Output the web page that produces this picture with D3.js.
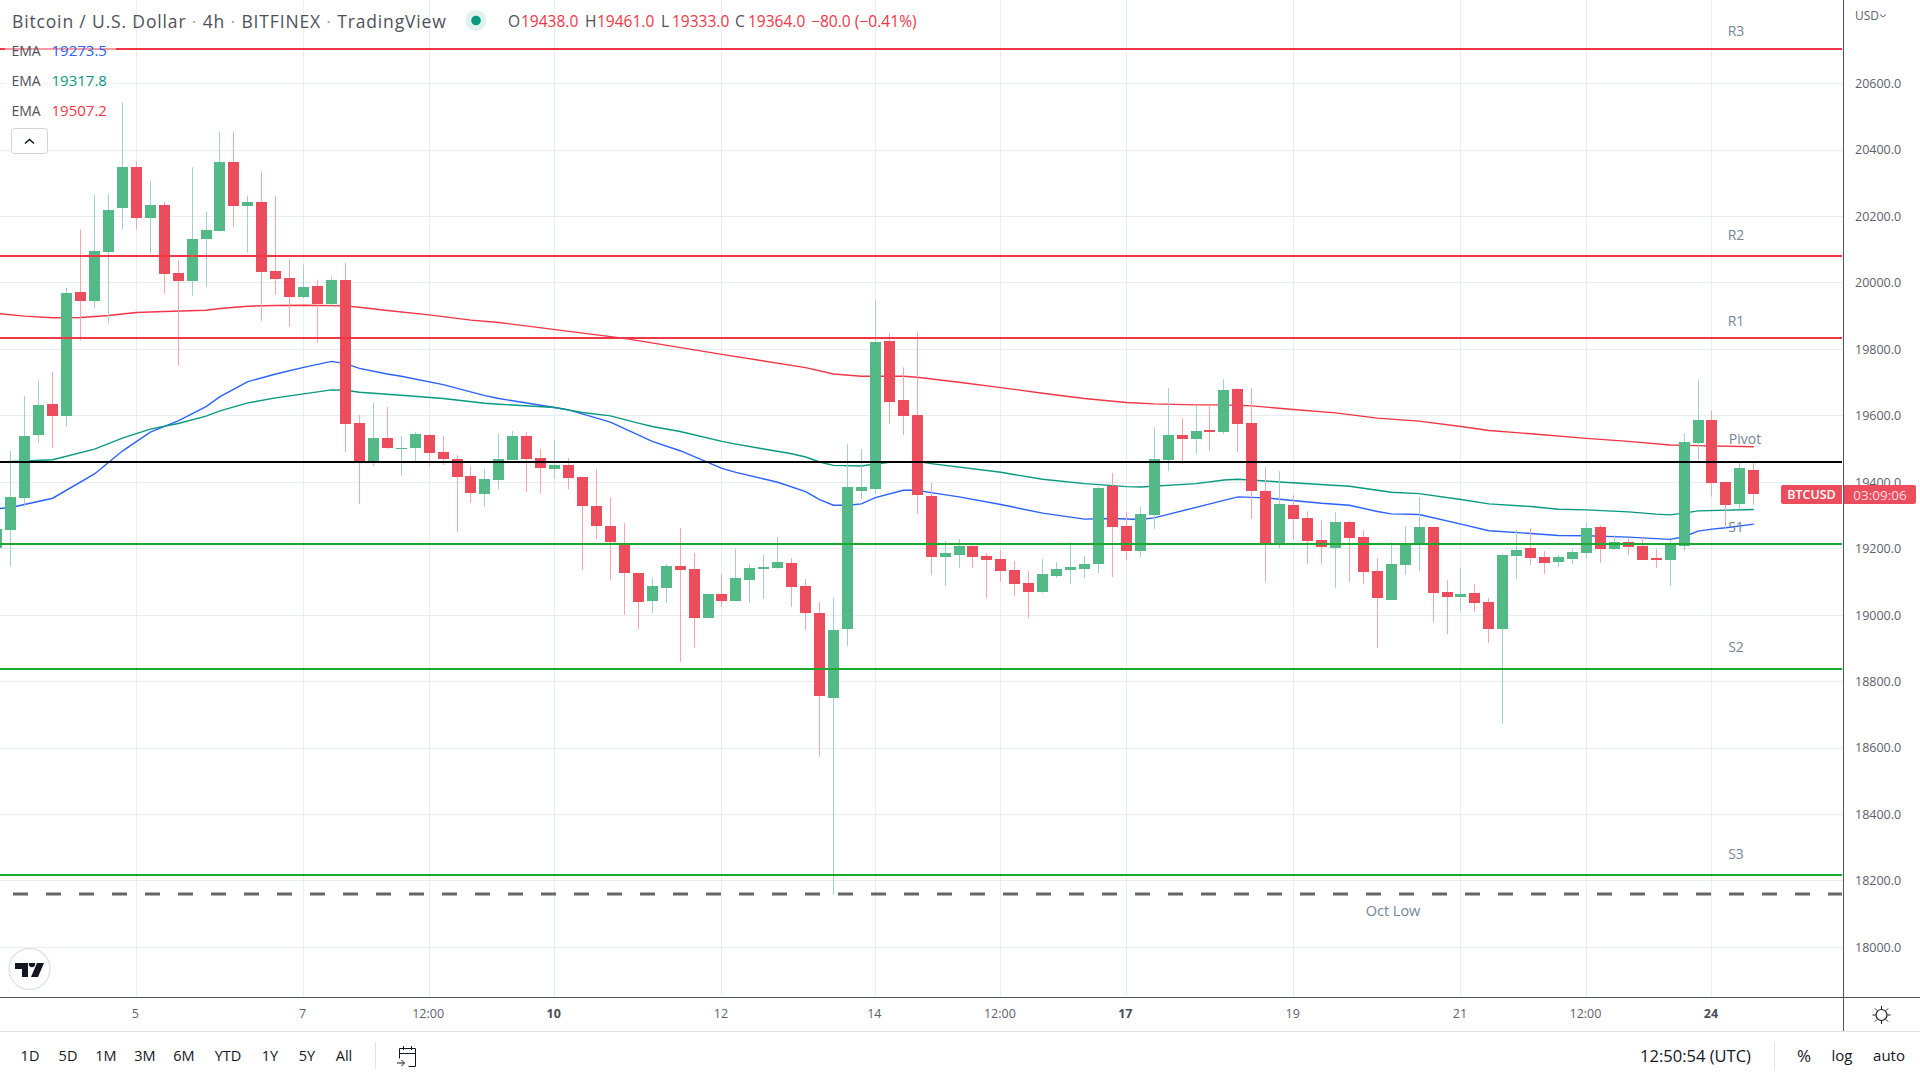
<!DOCTYPE html>
<html><head><meta charset="utf-8">
<script src="https://cdn.jsdelivr.net/npm/d3@7"></script>
<style>html,body{margin:0;padding:0;background:#fff;overflow:hidden}svg{display:block}text{font-family:"Open Sans",sans-serif}</style>
</head><body><svg id="c" width="1920" height="1080"></svg>
<script>
const opens=[19202,19256,19353,19543,19636,19598,19974,19947,20094,20227,20348,20194,20236,20031,20007,20131,20155,20363,20233,20245,20037,20016,19959,19992,19938,20010,19579,19462,19534,19501,19504,19543,19491,19470,19419,19365,19407,19467,19539,19473,19440,19452,19416,19328,19268,19214,19127,19043,19082,19148,19139,18992,19064,19043,19106,19139,19142,19157,19088,19007,18751,18959,19374,19380,19825,19647,19602,19359,19175,19181,19208,19178,19169,19136,19097,19070,19118,19136,19139,19154,19389,19268,19193,19302,19467,19542,19530,19557,19551,19680,19578,19374,19216,19332,19292,19226,19202,19280,19235,19133,19046,19151,19214,19265,19070,19055,19067,19040,18958,19178,19202,19175,19160,19169,19187,19265,19199,19220,19208,19172,19166,19208,19517,19586,19402,19336,19438];
const closes=[19258,19355,19540,19633,19598,19971,19947,20097,20221,20348,20194,20236,20028,20007,20131,20158,20363,20233,20245,20034,20013,19959,19989,19938,20010,19576,19462,19534,19504,19504,19546,19489,19470,19416,19368,19410,19470,19539,19470,19443,19452,19413,19328,19268,19220,19127,19040,19088,19148,19136,18992,19064,19043,19112,19142,19145,19160,19085,19007,18757,18956,19385,19386,19822,19641,19599,19362,19175,19187,19208,19175,19166,19133,19094,19070,19124,19139,19145,19154,19383,19265,19193,19305,19470,19542,19530,19554,19551,19677,19575,19374,19216,19334,19290,19223,19205,19280,19232,19130,19052,19154,19214,19265,19067,19055,19064,19037,18958,19181,19196,19172,19157,19175,19190,19262,19199,19220,19205,19166,19166,19217,19520,19586,19399,19333,19444,19364];
const highs=[19290,19494,19660,19708,19733,19986,20161,20266,20269,20544,20366,20308,20245,20067,20348,20215,20456,20456,20263,20336,20263,20073,20055,20010,20019,20061,19603,19639,19627,19540,19552,19546,19540,19482,19449,19440,19545,19554,19551,19500,19527,19473,19416,19440,19355,19277,19127,19112,19154,19262,19187,19064,19124,19199,19154,19181,19235,19172,19109,19040,19052,19515,19500,19948,19849,19746,19852,19398,19223,19229,19211,19187,19196,19163,19133,19169,19160,19220,19178,19386,19428,19311,19326,19566,19683,19593,19632,19632,19710,19683,19683,19445,19433,19361,19313,19286,19310,19283,19256,19172,19220,19268,19355,19265,19106,19142,19094,19052,19184,19256,19262,19193,19181,19199,19280,19271,19241,19229,19235,19199,19226,19547,19707,19616,19402,19460,19461];
const lows=[19180,19147,19327,19519,19504,19568,19827,19924,19878,20161,20161,20088,19968,19751,19962,19989,20155,20170,20091,19886,19965,19868,19953,19820,19932,19491,19335,19449,19500,19419,19462,19446,19452,19250,19338,19326,19379,19467,19370,19367,19410,19379,19136,19229,19106,19001,18959,19007,19037,18859,18902,18992,19025,19043,19037,19049,19139,19025,18956,18574,18160,18907,19350,19365,19575,19542,19305,19121,19088,19142,19142,19052,19100,19058,18992,19067,19112,19094,19112,19127,19115,19166,19175,19259,19434,19455,19485,19494,19545,19491,19290,19100,19202,19229,19154,19154,19082,19100,19094,18901,19046,19121,19133,18979,18943,19013,19010,18916,18673,19109,19151,19124,19145,19154,19172,19157,19196,19181,19166,19142,19088,19192,19466,19357,19261,19318,19333];

const blueIdx=[0,1,4,7,9,11,13,15,16,18,20,22,24,25,26,28,29,32,35,36,40,41,44,47,49,52,53,56,58,59,60,61,62,63,65,66,67,69,72,75,78,80,82,83,87,89,91,92,95,97,99,100,102,105,107,110,112,114,117,120,121,122,123,124,126];
const blueVal=[19320,19324,19352,19425,19494,19551,19585,19628,19658,19703,19726,19746,19764,19757,19743,19726,19719,19694,19661,19652,19625,19618,19581,19523,19495,19442,19430,19400,19372,19348,19331,19331,19335,19354,19376,19376,19369,19356,19333,19307,19289,19291,19288,19293,19335,19356,19353,19349,19337,19331,19312,19305,19303,19274,19254,19246,19240,19239,19235,19228,19236,19253,19259,19263,19274];
const greenIdx=[0,2,4,7,9,11,13,15,16,18,20,22,24,25,26,29,32,35,36,40,42,44,46,47,49,52,53,55,57,58,59,60,62,63,64,66,67,72,75,78,81,82,86,88,89,91,92,97,99,100,102,105,107,110,112,114,117,119,120,121,122,126];
const greenVal=[19461,19464,19468,19500,19533,19560,19577,19599,19615,19639,19654,19666,19678,19677,19671,19662,19652,19638,19635,19625,19610,19600,19578,19568,19553,19523,19515,19500,19486,19476,19461,19451,19449,19455,19460,19462,19456,19430,19409,19396,19387,19386,19396,19407,19409,19404,19401,19388,19376,19370,19366,19348,19335,19327,19319,19317,19311,19304,19302,19307,19314,19318];
const redIdx=[0,2,4,6,8,10,12,15,16,18,20,22,25,26,28,31,34,36,45,52,58,60,62,65,66,69,72,75,78,81,83,86,88,90,93,96,99,102,105,107,110,114,117,120,121,126];
const redVal=[19908,19900,19895,19896,19902,19911,19914,19918,19923,19930,19932,19933,19931,19927,19917,19904,19888,19881,19833,19785,19745,19726,19719,19719,19716,19701,19685,19668,19652,19640,19636,19633,19633,19630,19619,19609,19593,19584,19568,19556,19546,19532,19523,19512,19511,19507];

const levelNames=["R3","R2","R1","Pivot","S1","S2","S3"];
const levelVals=[20703,20080,19833,19460,19214,18838,18217];
const levelCols=["#f23645","#f23645","#f23645","#000000","#1ba82c","#1ba82c","#1ba82c"];
const octLow=18160;
const priceTicks=[20600,20400,20200,20000,19800,19600,19400,19200,19000,18800,18600,18400,18200,18000];
const timeIdx=[10,22,31,40,52,63,72,81,93,105,114,123];
const timeLabels=["5","7","12:00","10","12","14","12:00","17","19","21","12:00","24"];
const timeBold=["10","17","24"];
const rangeButtons=["1D","5D","1M","3M","6M","YTD","1Y","5Y","All"];
const rangeCentres=[30,68,106,145,184,228,270,307,344];

const PLOT_R=1843, PLOT_B=997;
const GRID="#e6edf3", UP="#53b987", DOWN="#ec4d5c", UPW="#a3cfd0", DOWNW="#f7a5ae", TXT="#5d606b";
const svg=d3.select("#c");
const x=d3.scaleLinear().domain([0,126]).range([-3.6,1753.3]);
const y=d3.scaleLinear().domain([20600,18000]).range([83.6,947.4]);
const cx=i=>Math.round(x(i));
svg.append("defs").append("clipPath").attr("id","plot").append("rect").attr("width",PLOT_R).attr("height",PLOT_B);
const plot=svg.append("g").attr("clip-path","url(#plot)");

// grid
plot.append("g").selectAll("line").data(priceTicks).join("line")
 .attr("x1",0).attr("x2",PLOT_R).attr("y1",d=>Math.floor(y(d))+.5).attr("y2",d=>Math.floor(y(d))+.5).attr("stroke",GRID);
plot.append("g").selectAll("line").data(timeIdx).join("line")
 .attr("x1",d=>cx(d)+.5).attr("x2",d=>cx(d)+.5).attr("y1",0).attr("y2",PLOT_B).attr("stroke",GRID);

// EMA lines
const emaLine=d3.line().x(d=>x(d[0])+.5).y(d=>y(d[1]));
[[blueIdx,blueVal,"#2962ff"],[greenIdx,greenVal,"#089981"],[redIdx,redVal,"#f23645"]].forEach(([a,b,c])=>{
 plot.append("path").attr("d",emaLine(a.map((v,k)=>[v,b[k]]))).attr("fill","none").attr("stroke",c).attr("stroke-width",1.4);
});

// candles
const idx=d3.range(opens.length);
plot.append("g").selectAll("rect").data(idx).join("rect")
 .attr("x",i=>cx(i)).attr("width",1).attr("y",i=>y(highs[i])).attr("height",i=>y(lows[i])-y(highs[i]))
 .attr("fill",i=>closes[i]>=opens[i]?UPW:DOWNW);
plot.append("g").selectAll("rect").data(idx).join("rect")
 .attr("x",i=>cx(i)-5).attr("width",11)
 .attr("y",i=>Math.round(y(Math.max(opens[i],closes[i]))))
 .attr("height",i=>Math.max(1,Math.round(y(Math.min(opens[i],closes[i])))-Math.round(y(Math.max(opens[i],closes[i])))))
 .attr("fill",i=>closes[i]>=opens[i]?UP:DOWN);

// level lines
plot.append("g").selectAll("line").data(levelVals).join("line")
 .attr("x1",0).attr("x2",PLOT_R-1).attr("y1",d=>Math.round(y(d))).attr("y2",d=>Math.round(y(d)))
 .attr("stroke",(d,i)=>levelCols[i]).attr("stroke-width",2);
plot.append("line").attr("x1",-20).attr("x2",PLOT_R-1).attr("y1",Math.round(y(octLow))).attr("y2",Math.round(y(octLow)))
 .attr("stroke","#666").attr("stroke-width",3).attr("stroke-dasharray","15 18");

// level labels
const labelPos={R3:[1736,30],R2:[1736,234],R1:[1736,320],Pivot:[1745,438],S1:[1736,526],S2:[1736,646],S3:[1736,853]};
plot.append("g").selectAll("text").data(levelNames).join("text")
 .attr("x",d=>labelPos[d][0]).attr("y",d=>labelPos[d][1]).attr("text-anchor","middle").attr("dominant-baseline","central")
 .attr("font-size",14).attr("fill","#758696").text(d=>d);
plot.append("text").attr("x",1393).attr("y",910).attr("text-anchor","middle").attr("dominant-baseline","central")
 .attr("font-size",14.5).attr("fill","#758696").text("Oct Low");

// price axis
const yAxis=d3.axisRight(y).tickValues(priceTicks).tickSize(0).tickPadding(0).tickFormat(d3.format(".1f"));
const ga=svg.append("g").attr("transform",`translate(${PLOT_R+12},-0.5)`).call(yAxis);
ga.select(".domain").remove();
ga.selectAll("text").attr("font-size",12.5).attr("fill",TXT).style("font-family",'"Open Sans",sans-serif').attr("x",0).attr("dy","0.35em");

// time axis
const xAxis=d3.axisBottom(x).tickValues(timeIdx).tickSize(0).tickPadding(0).tickFormat((d,i)=>timeLabels[i]);
const gt=svg.append("g").attr("transform",`translate(-1,1014)`).call(xAxis);
gt.select(".domain").remove();
gt.selectAll("text").attr("font-size",12.5).attr("fill",(d,i)=>timeBold.includes(timeLabels[i])?"#4a4d57":TXT)
 .attr("font-weight",(d,i)=>timeBold.includes(timeLabels[i])?700:400).style("font-family",'"Open Sans",sans-serif').attr("y",0).attr("dy","0.35em");

// frame
svg.append("line").attr("x1",PLOT_R+.5).attr("x2",PLOT_R+.5).attr("y1",0).attr("y2",1031).attr("stroke","#50535e");
svg.append("line").attr("x1",0).attr("x2",1920).attr("y1",PLOT_B+.5).attr("y2",PLOT_B+.5).attr("stroke","#50535e");
svg.append("line").attr("x1",0).attr("x2",1920).attr("y1",1031.5).attr("y2",1031.5).attr("stroke","#e0e3eb");

// header
const T=(t,xx,yy,fs,fill,anchor)=>svg.append("text").attr("x",xx).attr("y",yy).attr("font-size",fs).attr("fill",fill)
 .attr("dominant-baseline","central").attr("text-anchor",anchor||"start").text(t);
const titleParts=["Bitcoin / U.S. Dollar"," · ","4h"," · ","BITFINEX"," · ","TradingView"];
const title=svg.append("text").attr("x",12).attr("y",20.5).attr("font-size",17.5).attr("letter-spacing",.85).attr("dominant-baseline","central").attr("xml:space","preserve");
titleParts.forEach(p=>title.append("tspan").attr("fill",p===" · "?"#a3a6af":"#4f5159").text(p));
svg.append("circle").attr("cx",476).attr("cy",20.5).attr("r",10.5).attr("fill","#dff2ee");
svg.append("circle").attr("cx",476).attr("cy",20.5).attr("r",4.8).attr("fill","#089981");
const headLabels=["O","H","L","C"], headVals=["19438.0","19461.0","19333.0","19364.0"];
const headX=[508,585,661,735], headVX=[521,597,672,748];
headLabels.forEach((l,i)=>{T(l,headX[i],20.5,15.5,"#4f5159");T(headVals[i],headVX[i],20.5,15.5,"#f23645");});
T("−80.0 (−0.41%)",811,20.5,15.6,"#f23645");

// EMA legend
const emaLegend=["19273.5","19317.8","19507.2"], emaCols=["#2962ff","#089981","#f23645"], emaY=[50,80,110];
emaLegend.forEach((v,i)=>{
 svg.append("rect").attr("x",5).attr("y",emaY[i]-11).attr("width",111).attr("height",24).attr("fill","#fff").attr("opacity",.5);
 T("EMA",11.5,emaY[i],14,"#4f5159");
 T(v,51.5,emaY[i],15,emaCols[i]);
});
svg.append("rect").attr("x",11.5).attr("y",128.5).attr("width",36).attr("height",25).attr("rx",3).attr("fill","#fff").attr("stroke","#d1d4dc");
svg.append("path").attr("d","M25 143.5l4.5-4 4.5 4").attr("fill","none").attr("stroke","#131722").attr("stroke-width",1.5);

// logo
svg.append("circle").attr("cx",29.5).attr("cy",969).attr("r",20.5).attr("fill","#fff").attr("stroke","#e0e3eb").attr("stroke-width",1.5);
svg.append("path").attr("d","M15 963h13v14h-6v-8h-7zM37 963h7l-6 14h-7zM29 963a3.2 3.2 0 1 0 6 0z").attr("fill","#131722");

// USD
T("USD",1855,15.5,12,"#5d606b");
svg.append("path").attr("d","M1880 14.5l3 2.5 3-2.5").attr("fill","none").attr("stroke","#5d606b").attr("stroke-width",1);

// price tags
svg.append("path").attr("d","M1781 487a2 2 0 0 1 2-2h59v19h-59a2 2 0 0 1-2-2z").attr("fill",DOWN);
svg.append("path").attr("d","M1844 485h70a2 2 0 0 1 2 2v15a2 2 0 0 1-2 2h-70z").attr("fill",DOWN);
T("BTCUSD",1811.5,494.5,12.5,"#fff","middle").attr("font-weight",600);
T("03:09:06",1880,494.5,13.5,"#ffdfe2","middle");

// sun icon
svg.append("circle").attr("cx",1881.5).attr("cy",1015).attr("r",5.5).attr("fill","none").attr("stroke","#131722").attr("stroke-width",1.2);
svg.append("path").attr("d","M1881.5 1006v3M1881.5 1021v3M1872.5 1015h3M1887.5 1015h3M1875 1008.5l2 2M1886 1019.5l2 2M1888 1008.5l-2 2M1877 1019.5l-2 2").attr("stroke","#131722");

// bottom bar
rangeButtons.forEach((b,i)=>T(b,rangeCentres[i],1055,14.5,"#131722","middle"));
svg.append("line").attr("x1",375.5).attr("x2",375.5).attr("y1",1042).attr("y2",1069).attr("stroke","#e0e3eb");
svg.append("path").attr("d","M399.5 1048.5h16v18h-7M399.5 1048.5v10M399.5 1053.5h16M403.5 1046v4M411.5 1046v4M397 1063h7M401.5 1060l3 3-3 3").attr("fill","none").attr("stroke","#131722");
T("12:50:54 (UTC)",1695.5,1055,16.5,"#131722","middle");
svg.append("line").attr("x1",1774.5).attr("x2",1774.5).attr("y1",1042).attr("y2",1069).attr("stroke","#e0e3eb");
T("%",1804,1055,17,"#131722","middle");
T("log",1842,1055,15,"#131722","middle");
T("auto",1889,1055,15,"#131722","middle");
</script></body></html>
